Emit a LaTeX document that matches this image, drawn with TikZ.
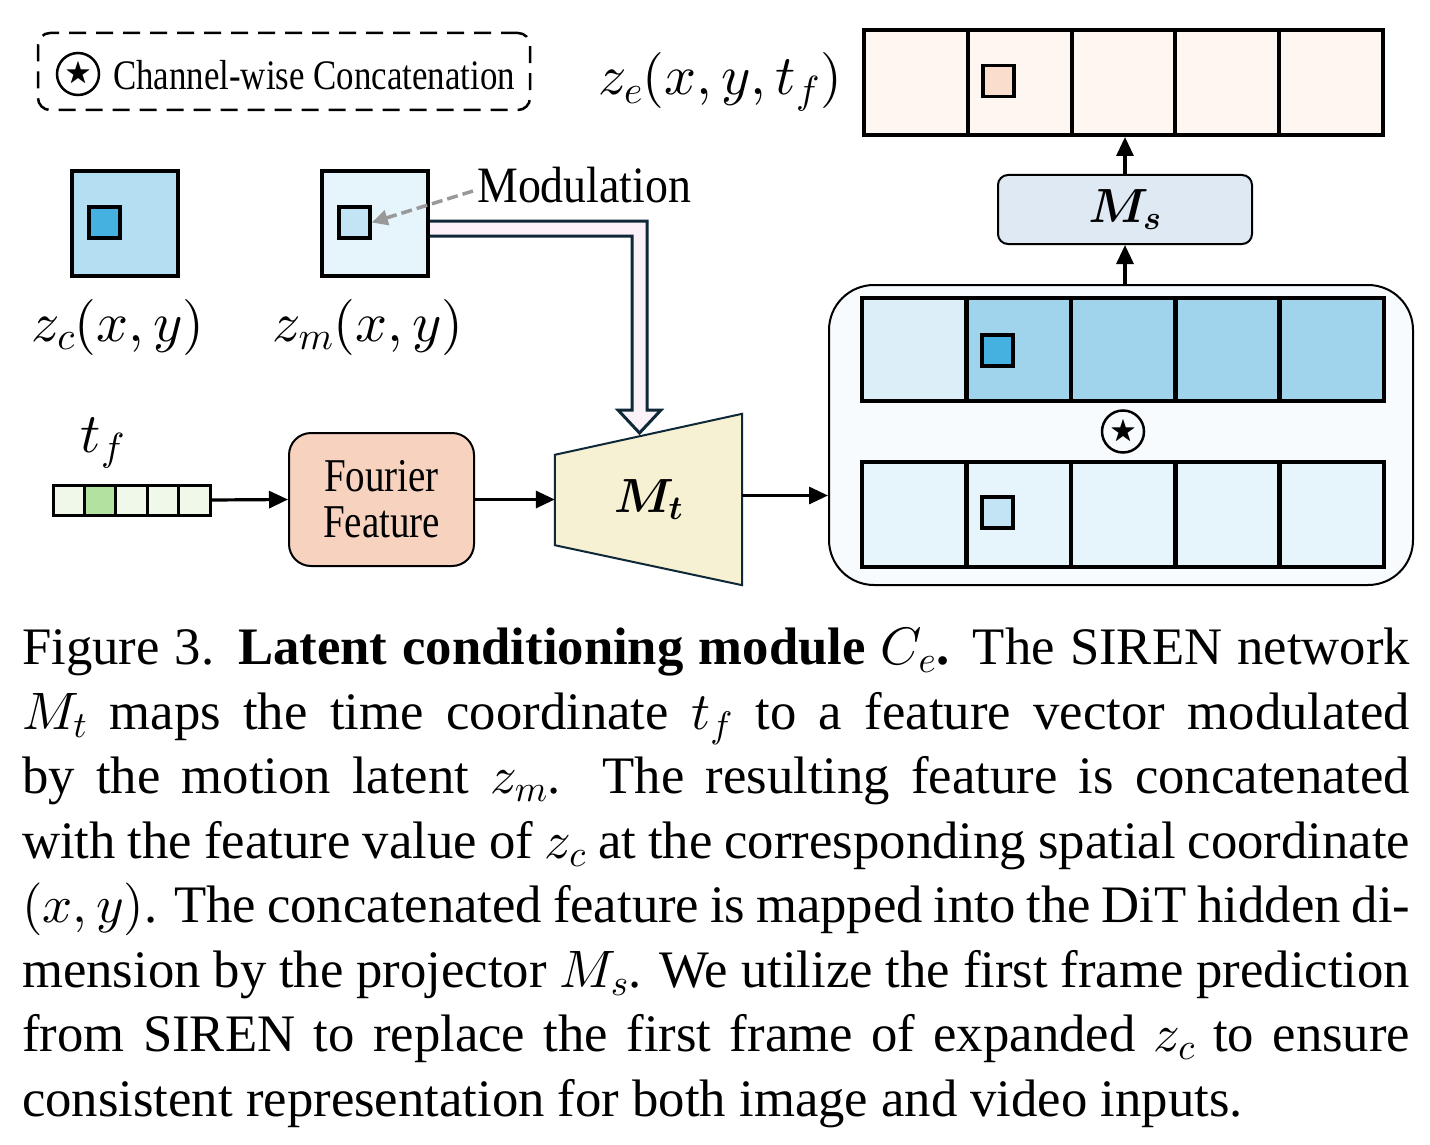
\documentclass[tikz,border=0pt]{standalone}
\usepackage{amsmath}
\usepackage{amssymb}
\usepackage{bm}
\usepackage{fontspec}
\setmainfont{Liberation Serif}
\newfontfamily\figfont[FakeStretch=0.83]{Liberation Serif}
\newfontfamily\modfont[FakeStretch=0.9]{Liberation Serif}
\DeclareFontShape{OT1}{cmr}{m}{n}{<->cmr10}{}
\DeclareFontShape{OT1}{cmr}{bx}{n}{<->cmbx10}{}
\DeclareFontShape{OML}{cmm}{m}{it}{<->cmmi10}{}
\DeclareFontShape{OML}{cmm}{b}{it}{<->cmmib10}{}
\DeclareFontShape{OMS}{cmsy}{m}{n}{<->cmsy10}{}
\DeclareFontShape{OMS}{cmsy}{b}{n}{<->cmbsy10}{}
\DeclareFontShape{OMX}{cmex}{m}{n}{<->cmex10}{}
\usetikzlibrary{arrows.meta,calc,positioning}
\pgfdeclarelayer{background}
\pgfsetlayers{background,main}

\definecolor{zecell}{HTML}{FDF6F1}
\definecolor{zedot}{HTML}{FBDDCD}
\definecolor{palecell}{HTML}{DCEEF8}
\definecolor{midcell}{HTML}{A0D4EC}
\definecolor{deepdot}{HTML}{45B1E0}
\definecolor{mcell}{HTML}{E6F4FB}
\definecolor{mdot}{HTML}{C2E4F5}
\definecolor{zcfill}{HTML}{B4DEF2}
\definecolor{bigfill}{HTML}{F7FBFE}
\definecolor{msfill}{HTML}{DEE9F4}
\definecolor{tfcell}{HTML}{F0F8EA}
\definecolor{tfmark}{HTML}{B2E1A0}
\definecolor{fffill}{HTML}{F7D3BF}
\definecolor{mtfill}{HTML}{F6F1D3}
\definecolor{pipefill}{HTML}{FBF1F9}
\definecolor{pipeline}{HTML}{0E2838}
\definecolor{modgrey}{HTML}{999999}

\begin{document}
\begin{tikzpicture}[x=1pt,y=-1pt,
  cell/.style={draw, line width=4pt, minimum width=103.8pt, minimum height=105pt, inner sep=0pt},
  dot/.style={draw, line width=3.5pt, minimum size=31pt, inner sep=0pt},
  tfbox/.style={draw, line width=3pt, minimum width=31.4pt, minimum height=30pt, inner sep=0pt, fill=tfcell},
  cstar/.style={circle, draw, line width=2.5pt, minimum size=42pt, inner sep=0pt, font=\fontsize{27}{27}\selectfont},
  arr/.style={-{Triangle[length=19pt,width=17pt]}, line width=3.2pt},
  lbl/.style={inner sep=0pt, font=\fontsize{56}{56}\selectfont}]
\useasboundingbox (0,0) rectangle (1430,1145);

% legend
\node[draw, dashed, dash pattern=on 17pt off 10pt, line width=2.5pt, rounded corners=12pt,
  minimum width=492pt, minimum height=77pt] (legend) at (284,71.5) {};
\node[cstar] (lstar) at (78,74) {$\bigstar$};
\node[anchor=west, inner sep=0pt, font=\figfont\fontsize{42}{42}\selectfont] (ltext) at (113,75) {Channel-wise Concatenation};

% output z_e
\node[lbl] (zelbl) at (720,82) {$z_e(x,y,t_f)$};
\foreach \i in {1,...,5}
  \node[cell, fill=zecell] (ze\i) at ({864+103.8*(\i-0.5)},82.5) {};
\node[dot, fill=zedot] (zedot) at ($(ze2)+(-21,-1.5)$) {};

% projector
\node[draw, line width=2pt, rounded corners=10pt, fill=msfill, minimum width=254pt, minimum height=69pt,
  font=\fontsize{48}{48}\selectfont] (ms) at (1125,209.5) {$\bm{M_s}$};

% concatenated feature
\node[draw, line width=2pt, rounded corners=45pt, fill=bigfill, minimum width=584pt, minimum height=300pt] (cat) at (1121,435) {};
\foreach \i/\c in {1/palecell,2/midcell,3/midcell,4/midcell,5/midcell}
  \node[cell, fill=\c, minimum height=103pt] (up\i) at ({862+104.4*(\i-0.5)},349.5) {};
\node[dot, fill=deepdot] (updot) at ($(up2)+(-21,1)$) {};
\foreach \i in {1,...,5}
  \node[cell, fill=mcell] (lo\i) at ({862+104.4*(\i-0.5)},514.5) {};
\node[dot, fill=mdot] (lodot) at ($(lo2)+(-21,-2)$) {};
\node[cstar] (mstar) at ($(up3.south)!0.5!(lo3.north)$) {$\bigstar$};

\draw[arr] (cat.north -| ms) -- (ms.south);
\draw[arr] (ms.north) -- (ms.north |- ze3.south);

% latents
\node[draw, line width=3.5pt, fill=zcfill, minimum width=106pt, minimum height=105pt] (zc) at (125,223.5) {};
\node[dot, fill=deepdot] (zcdot) at ($(zc)+(-20.5,-1)$) {};
\node[lbl] (zclbl) at (118,327) {$z_c(x,y)$};
\node[draw, line width=3.5pt, fill=mcell, minimum width=106pt, minimum height=105pt] (zm) at (375,223.5) {};
\node[dot, fill=mdot] (zmdot) at ($(zm)+(-20.5,-1)$) {};
\node[lbl] (zmlbl) at (368,327) {$z_m(x,y)$};
\node[anchor=west, inner sep=0pt, font=\modfont\fontsize{51}{51}\selectfont] (modtext) at (477,185) {Modulation};
\draw[-{Triangle[length=16pt,width=15pt]}, dashed, dash pattern=on 11pt off 5pt, line width=3.5pt, modgrey]
  ($(modtext.west)+(-4,6)$) -- (zmdot.east);

% time branch
\node[lbl] (tflbl) at (103,443) {$t_f$};
\foreach \i in {1,...,5}
  \node[tfbox] (tf\i) at ({53+31.4*(\i-0.5)},500) {};
\node[tfbox, fill=tfmark] at (tf2) {};
\node[draw, line width=2pt, rounded corners=22pt, fill=fffill, minimum width=185pt, minimum height=133pt,
  align=center, font=\figfont\fontsize{47}{46}\selectfont] (ff) at (381.5,499.5) {Fourier\\Feature};
\node[minimum width=187pt, minimum height=171pt, font=\fontsize{48}{48}\selectfont] (mt) at (648.5,499.5) {$\bm{M_t}$};
\begin{pgfonlayer}{background}
\draw[line width=2pt, draw=pipeline, fill=mtfill]
  (mt.north east) -- (mt.south east) -- ($(mt.south west)+(0,-40)$) -- ($(mt.north west)+(0,41)$) -- cycle;
\filldraw[line width=3pt, draw=pipeline, fill=pipefill, line join=miter]
  ($(zm.east)+(0,-2.5)$) -- (647,221) -- (647,410) -- (661,410) -- (639.5,433) -- (618,410)
  -- (632,410) -- (632,236) -- ($(zm.east)+(0,12.5)$);
\end{pgfonlayer}
\draw[arr] (tf5.east) -- (ff.west);
\draw[arr] (ff.east) -- (mt.west);
\draw[arr] ($(mt.east)+(0,-4)$) -- ($(mt.east -| cat.west)+(0,-4)$);

% caption
\node[anchor=north west, inner sep=0pt, text width=1388pt, align=justify,
  font=\fontsize{52.7}{64.5}\selectfont] (caption) at (22,628) {\emergencystretch=3em
Figure 3. \textbf{Latent conditioning module $C_e$.} The SIREN network\linebreak
$M_t$ maps the time coordinate $t_f$ to a feature vector modulated\linebreak
by the motion latent $z_m$. The resulting feature is concatenated\linebreak
with the feature value of $z_c$ at the corresponding spatial coordinate\linebreak
$(x, y)$. The concatenated feature is mapped into the DiT hidden di-\linebreak
mension by the projector $M_s$. We utilize the first frame prediction\linebreak
from SIREN to replace the first frame of expanded $z_c$ to ensure\linebreak
consistent representation for both image and video inputs.};
\end{tikzpicture}
\end{document}
